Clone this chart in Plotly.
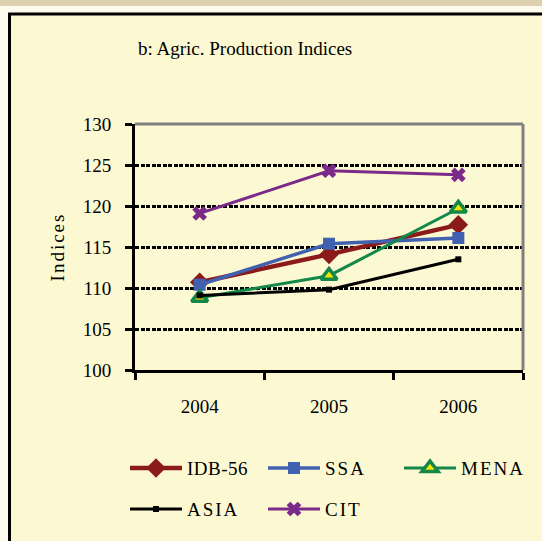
import plotly.graph_objects as go

years = ["2004", "2005", "2006"]
idb56 = [110.7, 114.1, 117.7]
ssa = [110.4, 115.4, 116.1]
mena = [108.8, 111.5, 119.7]
asia = [109.1, 109.8, 113.5]
cit = [119.1, 124.3, 123.8]
y_ticks = [100, 105, 110, 115, 120, 125, 130]

BG = "#FCF8D2"
OUTER = "#FDFBEE"
FONT = "Liberation Serif"

# plot area in pixels: left 135, right 523, top 124, bottom 370
L, R, T, B = 135, 523, 124, 370
W, H = 542, 541
def px(x):
    return (x - L) / (R - L)
def py(y):
    return (B - y) / (B - T)

fig = go.Figure()
fig.add_trace(go.Scatter(x=years, y=idb56, name="IDB-56", mode="lines+markers",
                         line=dict(color="#8B1A1A", width=4.5),
                         marker=dict(symbol="diamond", size=15, color="#8B1A1A")))
fig.add_trace(go.Scatter(x=years, y=ssa, name="SSA", mode="lines+markers",
                         line=dict(color="#4060B0", width=3.5),
                         marker=dict(symbol="square", size=12, color="#4060B0")))
fig.add_trace(go.Scatter(x=years, y=mena, name="MENA", mode="lines+markers",
                         line=dict(color="#13884A", width=3),
                         marker=dict(symbol="triangle-up", size=14, color="#F2E600",
                                     line=dict(color="#13884A", width=3.5))))
fig.add_trace(go.Scatter(x=years, y=asia, name="ASIA", mode="lines+markers",
                         line=dict(color="#000000", width=3),
                         marker=dict(symbol="square", size=6, color="#000000")))
fig.add_trace(go.Scatter(x=years, y=cit, name="CIT", mode="lines+markers",
                         line=dict(color="#7B2A8A", width=3),
                         marker=dict(symbol="x", size=13, color="#7B2A8A")))

shapes = [
    # top beige band
    dict(type="rect", xref="paper", yref="paper", x0=px(-10), x1=px(W + 10),
         y0=py(6), y1=py(-2), fillcolor="#DCD0AE",
         line=dict(width=0), layer="below"),
    # frame
    dict(type="rect", xref="paper", yref="paper", x0=px(9.5), x1=px(W + 20),
         y0=py(H + 20), y1=py(14), line=dict(color="black", width=3),
         fillcolor=BG, layer="below"),
    # grey top and right plot border
    dict(type="line", xref="paper", yref="paper", x0=0, x1=1, y0=1, y1=1,
         line=dict(color="#808080", width=3)),
    dict(type="line", xref="paper", yref="paper", x0=1, x1=1, y0=0, y1=1,
         line=dict(color="#808080", width=3)),
]

fig.update_layout(
    width=W, height=H,
    margin=dict(l=L, r=W - R, t=T, b=H - B),
    paper_bgcolor=OUTER, plot_bgcolor=BG,
    font=dict(family=FONT, color="black", size=19),
    title=dict(text="b: Agric. Production Indices", x=138 / W, xanchor="left",
               y=1 - 48 / H, yanchor="middle", font=dict(size=19, family=FONT)),
    shapes=shapes,
    showlegend=True,
    legend=dict(orientation="h", xanchor="left", yanchor="top",
                x=px(136), y=py(425), entrywidth=80, entrywidthmode="pixels",
                traceorder="normal", bgcolor="rgba(0,0,0,0)",
                font=dict(size=19, family=FONT)),
)
fig.update_xaxes(type="category", range=[-0.5, 2.5], showline=True, linecolor="black",
                 linewidth=3, ticks="outside", tickson="boundaries", ticklen=7,
                 tickwidth=3, tickcolor="black", showgrid=False,
                 tickfont=dict(size=19, family=FONT), ticklabelstandoff=17)
fig.update_yaxes(range=[100, 130], tickvals=y_ticks, showline=True, linecolor="black",
                 linewidth=3, ticks="outside", ticklen=7, tickwidth=3,
                 tickcolor="black", showgrid=True, gridcolor="black", gridwidth=3,
                 griddash="4px,1.5px", zeroline=False,
                 tickfont=dict(size=19, family=FONT), ticklabelstandoff=10,
                 title=dict(text="Indices", font=dict(size=19, family=FONT), standoff=14))

post = """
document.documentElement.style.margin='0';
document.body.style.margin='0';
document.body.style.padding='0';
document.body.style.background='%s';
var css = document.createElement('style');
css.textContent = [
  '.legendtext { letter-spacing: 2px; transform: translateX(11px); }',
  '.scrollbox { clip-path: none !important; }',
  '.legendlines path { d: path("M-6,0h52"); }',
  '.ytitle { letter-spacing: 2px; }'
].join('\\n');
document.head.appendChild(css);
var gd = document.getElementById('{plot_id}');
function setAttr(el, a, v) { if (el.getAttribute(a) !== v) { el.setAttribute(a, v); } }
function layoutLegend() {
  try {
    gd.querySelectorAll('.legendlines path').forEach(function(p){ setAttr(p, 'd', 'M-6,0h52'); });
    var items = Array.prototype.filter.call(gd.querySelectorAll('g.traces'), function(g){
      return g.querySelector('.legendtext');
    });
    if (items.length < 5) { return; }
    var t0 = items[0].querySelector('.legendtext');
    if (t0.style.letterSpacing !== '0.5px') { t0.style.letterSpacing = '0.5px'; }
    var m = (items[0].getAttribute('transform') || '').match(/translate\\(\\s*([-\\d.e]+)[\\s,]+([-\\d.e]+)\\s*\\)/);
    if (!m) { return; }
    var x1 = parseFloat(m[1]), y1 = parseFloat(m[2]);
    var pt = items[0].querySelector('.legendpoints path');
    if (!pt) { return; }
    var r = pt.getBoundingClientRect();
    var cx = r.left + r.width / 2, cy = r.top + r.height / 2;
    var bx = Math.round((x1 + (156 - cx)) * 10) / 10;
    var by = Math.round((y1 + (468 - cy)) * 10) / 10;
    var dx = [0, 138, 274, 0, 138], dy = [0, 0, 0, 41, 41];
    for (var i = 0; i < 5; i++) {
      setAttr(items[i], 'transform', 'translate(' + (bx + dx[i]) + ',' + (by + dy[i]) + ')');
    }
  } catch (err) {}
}
layoutLegend();
var busy = false;
var obs = new MutationObserver(function(){
  if (busy) { return; }
  busy = true; layoutLegend(); busy = false;
});
obs.observe(gd, {subtree: true, childList: true, attributes: true});
""" % OUTER

fig.write_html("out.html", post_script=post, config={"displayModeBar": False})
